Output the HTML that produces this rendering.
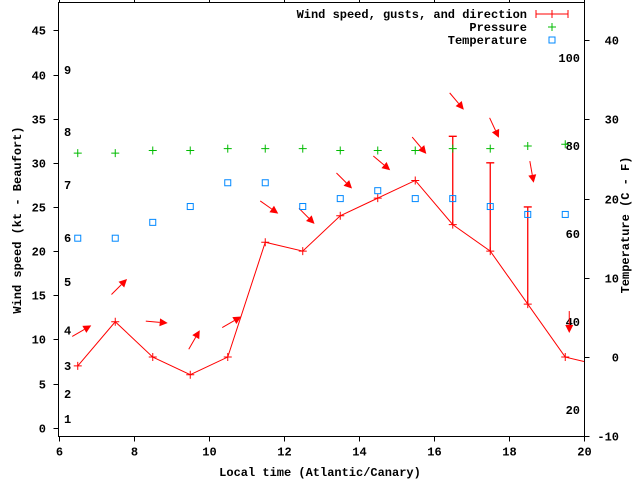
<!DOCTYPE html>
<html><head><meta charset="utf-8"><style>
body{margin:0;background:#fff}
svg{display:block}
text{font-family:"Liberation Mono",monospace;font-weight:bold;font-size:12px;fill:#000}
</style></head><body>
<svg id="chart" width="640" height="480" viewBox="0 0 640 480">
<g id="axes"></g>
<g id="marks"></g>
<g id="legend">
<text x="527" y="18" text-anchor="end">Wind speed, gusts, and direction</text>
<line x1="536" y1="14" x2="568" y2="14" stroke="#f00"/>
<line x1="536" y1="10" x2="536" y2="18" stroke="#f00"/><line x1="568" y1="10" x2="568" y2="18" stroke="#f00"/>
<line x1="552" y1="10" x2="552" y2="18" stroke="#f00"/>
<text x="527" y="31" text-anchor="end">Pressure</text>
<path d="M548 27h8M552 23v8" stroke="#0b0"/>
<text x="527" y="44" text-anchor="end">Temperature</text>
<rect x="549" y="37" width="6" height="6" fill="none" stroke="#08f"/>
</g>
<text x="320" y="476" text-anchor="middle">Local time (Atlantic/Canary)</text>
<text transform="translate(21,220) rotate(-90)" text-anchor="middle">Wind speed (kt - Beaufort)</text>
<text transform="translate(629,225) rotate(-90)" text-anchor="middle">Temperature (C - F)</text>
</svg>
<script>
const hours=[6.5,7.5,8.5,9.5,10.5,11.5,12.5,13.5,14.5,15.5,16.5,17.5,18.5,19.5];
const windSpeed=[7,12,8,6,8,21,20,24,26,28,23,20,14,8];
const windTail=7.5;
const gustHours=[16.5,17.5,18.5];
const gustValues=[33,30,25];
const windDir=[60,45,95,30,60,125,135,135,130,140,140,155,170,180];
const pressure=[31.1,31.1,31.4,31.4,31.6,31.6,31.6,31.4,31.4,31.4,31.6,31.6,31.9,32.1];
const temperature=[15,15,17,19,22,22,19,20,21,20,20,19,18,18];
const xTicks=[6,8,10,12,14,16,18,20];
const yTicks=[0,5,10,15,20,25,30,35,40,45];
const y2Ticks=[-10,0,10,20,30,40];
const fTicks=[20,40,60,80,100];
const bftLabels=[1,2,3,4,5,6,7,8,9];
const bftKnots=[1,3.8,7,11,16.5,21.5,27.5,33.5,40.5];

const L=58.5,R=584.5,T=2.5,B=436.5;
const X=h=>59+(h-6)*37.5;
const Y=v=>427.7-v*8.83;
const Y2=c=>357-c*7.92;
const YF=f=>Y2((f-32)*5/9);
const NS='http://www.w3.org/2000/svg';
function mk(parent,tag,attrs){const e=document.createElementNS(NS,tag);for(const k in attrs)e.setAttribute(k,attrs[k]);parent.appendChild(e);return e;}
const ax=document.getElementById('axes'),mg=document.getElementById('marks');
let el=mk(ax,'rect',{x:L,y:T,width:R-L,height:B-T,fill:'none',stroke:'#000'});


xTicks.forEach(t=>{const x=Math.round(X(t))+0.5;
 mk(ax,'line',{x1:x,y1:B,x2:x,y2:B+5,stroke:'#000'});
 mk(ax,'line',{x1:x,y1:T,x2:x,y2:T-5,stroke:'#000'});
 el=mk(ax,'text',{x:x,y:B+19,'text-anchor':'middle'});el.textContent=t;
 
 });
yTicks.forEach(t=>{const y=Math.round(Y(t))+0.5;
 mk(ax,'line',{x1:L-5,y1:y,x2:L,y2:y,stroke:'#000'});
 el=mk(ax,'text',{x:46,y:y+4,'text-anchor':'end'});el.textContent=t;
 
 });
y2Ticks.forEach(t=>{const y=Math.round(Y2(t))+0.5;
 mk(ax,'line',{x1:R,y1:y,x2:R+5,y2:y,stroke:'#000'});
 el=mk(ax,'text',{x:619,y:y+4,'text-anchor':'end'});el.textContent=t;
 
 });
fTicks.forEach(t=>{el=mk(ax,'text',{x:580,y:YF(t)+4,'text-anchor':'end'});el.textContent=t;
 
 });
bftLabels.forEach((b,i)=>{el=mk(ax,'text',{x:64,y:Y(bftKnots[i])+4});el.textContent=b;
 
 });
// wind line
let pts=hours.map((h,i)=>X(h)+','+Y(windSpeed[i])).join(' ')+' '+X(20)+','+Y(windTail);
el=mk(mg,'polyline',{points:pts,fill:'none',stroke:'#f00'});


hours.forEach((h,i)=>{const x=X(h),y=Y(windSpeed[i]);
 el=mk(mg,'path',{d:`M${x-4} ${y}h8M${x} ${y-4}v8`,stroke:'#f00'});
 
 });
gustHours.forEach((h,i)=>{const x=X(h),j=hours.indexOf(h),y0=Y(windSpeed[j]),y1=Y(gustValues[i]);
 el=mk(mg,'path',{d:`M${x} ${y0}V${y1}M${x-4} ${y1}h8`,stroke:'#f00','stroke-width':1.3});
 
 });
// arrows
hours.forEach((h,i)=>{const top=Math.max(windSpeed[i],gustHours.includes(h)?gustValues[gustHours.indexOf(h)]:0);
 const cx=X(h)+4,cy=Y(top)-35,a=(windDir[i]-90)*Math.PI/180,dx=Math.cos(a),dy=Math.sin(a),len=11;
 const hx=cx+dx*len,hy=cy+dy*len,tx=cx-dx*len,ty=cy-dy*len;
 const bx=hx-dx*8,by=hy-dy*8,px=-dy*4,py=dx*4;
 el=mk(mg,'g',{});
 
 
 mk(el,'line',{x1:tx,y1:ty,x2:bx,y2:by,stroke:'#f00'});
 mk(el,'polygon',{points:`${hx},${hy} ${bx+px},${by+py} ${bx-px},${by-py}`,fill:'#f00'});});
pressure.forEach((p,i)=>{const x=X(hours[i]),y=Y(p);
 el=mk(mg,'path',{d:`M${x-4} ${y}h8M${x} ${y-4}v8`,stroke:'#0b0'});
 
 });
temperature.forEach((t,i)=>{const x=X(hours[i]),y=Y2(t);
 el=mk(mg,'rect',{x:x-3,y:y-3,width:6,height:6,fill:'none',stroke:'#08f'});
 
 });
</script>
</body></html>
